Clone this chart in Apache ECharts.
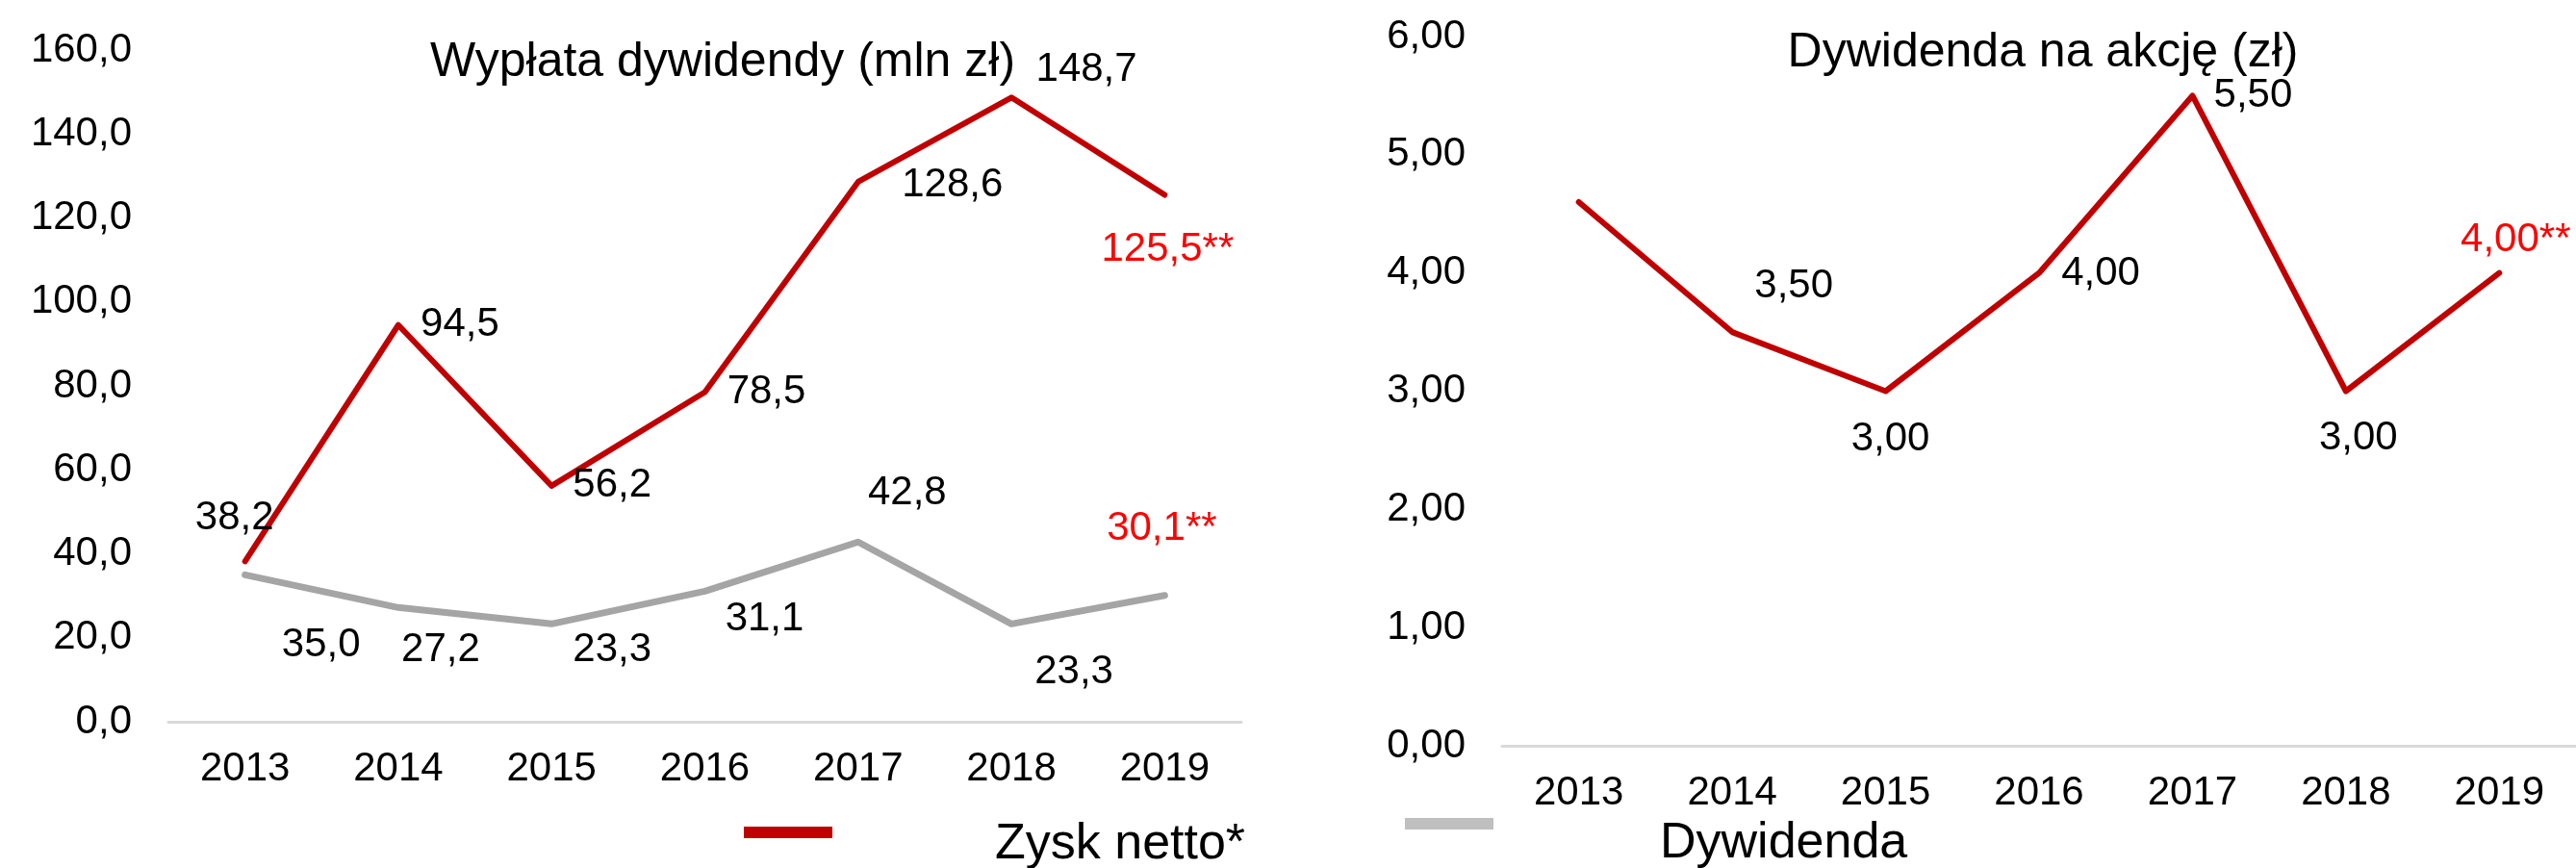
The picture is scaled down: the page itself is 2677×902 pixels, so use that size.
<!DOCTYPE html>
<html>
<head>
<meta charset="utf-8">
<script src="https://cdn.jsdelivr.net/npm/echarts@6/dist/echarts.min.js"></script>
<style>
  html, body { margin: 0; padding: 0; background: #fff; }
  #chart { width: 2677px; height: 902px; }
</style>
</head>
<body>
<div id="chart"></div>
<script>
// dane
const years = ['2013', '2014', '2015', '2016', '2017', '2018', '2019']
const zyskNetto = [38.2, 94.5, 56.2, 78.5, 128.6, 148.7, 125.5]
const dywidenda = [35.0, 27.2, 23.3, 31.1, 42.8, 23.3, 30.1]
const dywNaAkcje = [4.6, 3.5, 3.0, 4.0, 5.5, 3.0, 4.0]

// przesuniecia etykiet (px, srodek etykiety wzgledem punktu)
const zyskOff = [[-11, -45], [64, 0], [63, 0], [64, 0], [98, 3], [78, -29], [3, 57]]
const dywOff = [[79, 73], [44, 44], [63, 27], [62, 29], [51, -51], [65, 50], [-3, -69]]
const akcjaOff = [[0, 0], [64, -48], [5, 50], [64, 1], [63, 0], [13, 49], [17, -34]]

const RED = '#C00000'
const GRAY = '#A5A5A5'
const FONT = '"Liberation Sans", Arial, sans-serif'

const fmt = (v, d) => v.toFixed(d).replace('.', ',')

function buildData(values, offsets, digits, skipFirst) {
   return values.map((v, i) => {
      let label = { offset: offsets[i] }
      if (i === values.length - 1) {
         label.color = '#FF0000'
         label.formatter = fmt(v, digits) + '**'
      }
      if (skipFirst && i === 0) label.show = false
      return { value: v, label: label }
   })
}

let chart = echarts.init(document.getElementById('chart'))

let baseLabel = {
   show: true,
   position: 'inside',
   fontSize: 42,
   fontFamily: FONT,
   color: '#000'
}

let option = {
   animation: false,
   textStyle: { fontFamily: FONT },
   title: [
      {
         text: 'Wypłata dywidendy (mln zł)',
         left: 746,
         top: 35,
         textAlign: 'center',
         textStyle: { fontSize: 50, fontWeight: 'normal', color: '#000', lineHeight: 50, fontFamily: FONT }
      },
      {
         text: 'Dywidenda na akcję (zł)',
         left: 2118,
         top: 25,
         textAlign: 'center',
         textStyle: { fontSize: 50, fontWeight: 'normal', color: '#000', lineHeight: 50, fontFamily: FONT }
      }
   ],
   // legenda rysowana recznie (ikona i tekst sa daleko od siebie)
   graphic: [
      { type: 'rect', left: 773, top: 859, shape: { width: 92, height: 12 }, style: { fill: RED } },
      {
         type: 'text', x: 1034, y: 878,
         style: { text: 'Zysk netto*', fontSize: 52, fontFamily: FONT, fill: '#000', verticalAlign: 'middle' }
      },
      { type: 'rect', left: 1460, top: 850, shape: { width: 92, height: 12 }, style: { fill: '#BFBFBF' } },
      {
         type: 'text', x: 1725, y: 877,
         style: { text: 'Dywidenda', fontSize: 52, fontFamily: FONT, fill: '#000', verticalAlign: 'middle' }
      }
   ],
   grid: [
      { left: 175, top: 52, width: 1115, height: 698 },
      { left: 1561, top: 38, width: 1142, height: 737 }
   ],
   xAxis: [
      {
         gridIndex: 0,
         type: 'category',
         data: years,
         boundaryGap: true,
         axisLine: { lineStyle: { color: '#D9D9D9', width: 3 } },
         axisTick: { show: false },
         axisLabel: { fontSize: 42, color: '#000', margin: 28, fontFamily: FONT }
      },
      {
         gridIndex: 1,
         type: 'category',
         data: years,
         boundaryGap: true,
         axisLine: { lineStyle: { color: '#D9D9D9', width: 3 } },
         axisTick: { show: false },
         axisLabel: { fontSize: 42, color: '#000', margin: 28, fontFamily: FONT }
      }
   ],
   yAxis: [
      {
         gridIndex: 0,
         type: 'value',
         min: 0,
         max: 160,
         interval: 20,
         splitLine: { show: false },
         axisLine: { show: false },
         axisTick: { show: false },
         axisLabel: { fontSize: 42, color: '#000', margin: 38, fontFamily: FONT, formatter: v => fmt(v, 1) }
      },
      {
         gridIndex: 1,
         type: 'value',
         min: 0,
         max: 6,
         interval: 1,
         splitLine: { show: false },
         axisLine: { show: false },
         axisTick: { show: false },
         axisLabel: { fontSize: 42, color: '#000', margin: 38, fontFamily: FONT, formatter: v => fmt(v, 2) }
      }
   ],
   series: [
      {
         name: 'Zysk netto*',
         type: 'line',
         xAxisIndex: 0,
         yAxisIndex: 0,
         symbol: 'circle',
         symbolSize: 1,
         itemStyle: { color: RED },
         lineStyle: { color: RED, width: 6, cap: 'round', join: 'round' },
         label: Object.assign({}, baseLabel, { formatter: p => fmt(p.value, 1) }),
         data: buildData(zyskNetto, zyskOff, 1, false),
         z: 3
      },
      {
         name: 'Dywidenda',
         type: 'line',
         xAxisIndex: 0,
         yAxisIndex: 0,
         symbol: 'circle',
         symbolSize: 1,
         itemStyle: { color: GRAY },
         lineStyle: { color: GRAY, width: 7, cap: 'round', join: 'round' },
         label: Object.assign({}, baseLabel, { formatter: p => fmt(p.value, 1) }),
         data: buildData(dywidenda, dywOff, 1, false),
         z: 2
      },
      {
         name: 'Dywidenda na akcję',
         type: 'line',
         xAxisIndex: 1,
         yAxisIndex: 1,
         symbol: 'circle',
         symbolSize: 1,
         itemStyle: { color: RED },
         lineStyle: { color: RED, width: 6, cap: 'round', join: 'round' },
         label: Object.assign({}, baseLabel, { formatter: p => fmt(p.value, 2) }),
         data: buildData(dywNaAkcje, akcjaOff, 2, true)
      }
   ]
}

chart.setOption(option)
</script>
</body>
</html>
